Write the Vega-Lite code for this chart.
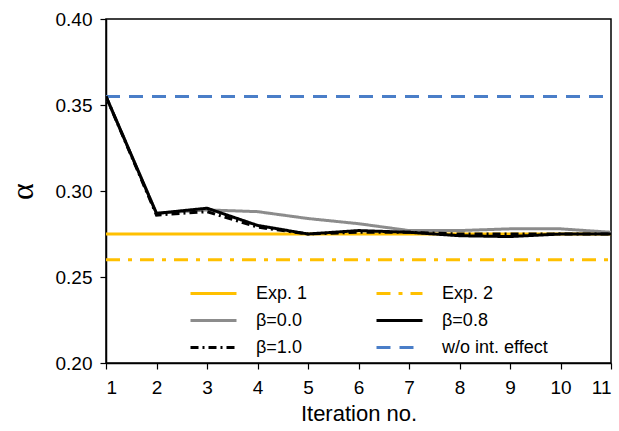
{
  "$schema": "https://vega.github.io/schema/vega-lite/v6.json",
  "width": 505,
  "height": 344,
  "autosize": "none",
  "padding": {"left": 106, "top": 19, "right": 8, "bottom": 68},
  "config": {
    "view": {"stroke": "#000000", "strokeWidth": 1.5},
    "font": "Liberation Sans",
    "axis": {"grid": false, "domainColor": "#000000", "tickColor": "#000000", "labelColor": "#000000", "titleColor": "#000000", "labelFont": "Liberation Sans", "titleFont": "Liberation Sans", "titleFontWeight": "normal", "domainWidth": 1.5, "tickWidth": 1.2},
    "legend": {"title": null, "orient": "none", "legendX": 83, "legendY": 261, "columns": 2, "direction": "horizontal",
        "columnPadding": 67, "rowPadding": 0, "clipHeight": 27, "symbolType": "stroke", "symbolSize": 2116,
        "labelFontSize": 18, "labelOffset": 18, "labelColor": "#000000", "labelFont": "Liberation Sans"}
  },
  "data": {
    "values": [
      {"s": "Exp. 1", "i": 1, "v": 0.275}, {"s": "Exp. 1", "i": 11, "v": 0.275},
      {"s": "Exp. 2", "i": 1, "v": 0.26}, {"s": "Exp. 2", "i": 11, "v": 0.26},
      {"s": "w/o int. effect", "i": 1, "v": 0.355}, {"s": "w/o int. effect", "i": 11, "v": 0.355},
      {"s": "β=0.0", "i": 1, "v": 0.355}, {"s": "β=0.0", "i": 2, "v": 0.287}, {"s": "β=0.0", "i": 3, "v": 0.289}, {"s": "β=0.0", "i": 4, "v": 0.288}, {"s": "β=0.0", "i": 5, "v": 0.284}, {"s": "β=0.0", "i": 6, "v": 0.281}, {"s": "β=0.0", "i": 7, "v": 0.277}, {"s": "β=0.0", "i": 8, "v": 0.277}, {"s": "β=0.0", "i": 9, "v": 0.278}, {"s": "β=0.0", "i": 10, "v": 0.278}, {"s": "β=0.0", "i": 11, "v": 0.276},
      {"s": "β=1.0", "i": 1, "v": 0.355}, {"s": "β=1.0", "i": 2, "v": 0.286}, {"s": "β=1.0", "i": 3, "v": 0.288}, {"s": "β=1.0", "i": 4, "v": 0.279}, {"s": "β=1.0", "i": 5, "v": 0.275}, {"s": "β=1.0", "i": 6, "v": 0.276}, {"s": "β=1.0", "i": 7, "v": 0.276}, {"s": "β=1.0", "i": 8, "v": 0.275}, {"s": "β=1.0", "i": 9, "v": 0.275}, {"s": "β=1.0", "i": 10, "v": 0.275}, {"s": "β=1.0", "i": 11, "v": 0.275},
      {"s": "β=0.8", "i": 1, "v": 0.355}, {"s": "β=0.8", "i": 2, "v": 0.287}, {"s": "β=0.8", "i": 3, "v": 0.290}, {"s": "β=0.8", "i": 4, "v": 0.280}, {"s": "β=0.8", "i": 5, "v": 0.275}, {"s": "β=0.8", "i": 6, "v": 0.277}, {"s": "β=0.8", "i": 7, "v": 0.276}, {"s": "β=0.8", "i": 8, "v": 0.274}, {"s": "β=0.8", "i": 9, "v": 0.2735}, {"s": "β=0.8", "i": 10, "v": 0.275}, {"s": "β=0.8", "i": 11, "v": 0.275}
    ]
  },
  "mark": {"type": "line", "clip": true},
  "encoding": {
    "x": {
      "field": "i", "type": "quantitative",
      "scale": {"domain": [1, 11], "nice": false, "zero": false},
      "axis": {"values": [1,2,3,4,5,6,7,8,9,10,11], "title": "Iteration no.", "titleFontSize": 22, "labelFontSize": 19, "tickSize": 6, "labelPadding": 9, "titlePadding": 6}
    },
    "y": {
      "field": "v", "type": "quantitative",
      "scale": {"domain": [0.2, 0.4], "nice": false, "zero": false},
      "axis": {"values": [0.2, 0.25, 0.3, 0.35, 0.4], "format": ".2f", "title": "α", "titleFontSize": 32, "titleFont": "Liberation Serif", "labelFontSize": 19, "tickSize": 6, "labelPadding": 8, "titlePadding": 16}
    },
    "color": {
      "field": "s", "type": "nominal",
      "scale": {
        "domain": ["Exp. 1", "Exp. 2", "β=0.0", "β=0.8", "β=1.0", "w/o int. effect"],
        "range": ["#FFC000", "#FFC000", "#8C8C8C", "#000000", "#000000", "#4A7EC8"]
      }
    },
    "strokeDash": {
      "field": "s", "type": "nominal",
      "scale": {
        "domain": ["Exp. 1", "Exp. 2", "β=0.0", "β=0.8", "β=1.0", "w/o int. effect"],
        "range": [[1, 0], [14, 8, 4, 8], [1, 0], [1, 0], [8, 4, 2, 4], [14, 9]]
      }
    },
    "strokeWidth": {
      "field": "s", "type": "nominal",
      "scale": {
        "domain": ["Exp. 1", "Exp. 2", "β=0.0", "β=0.8", "β=1.0", "w/o int. effect"],
        "range": [3, 3, 2, 3.5, 1.8, 3]
      }
    },
    "order": {"field": "i", "type": "quantitative"}
  }
}
